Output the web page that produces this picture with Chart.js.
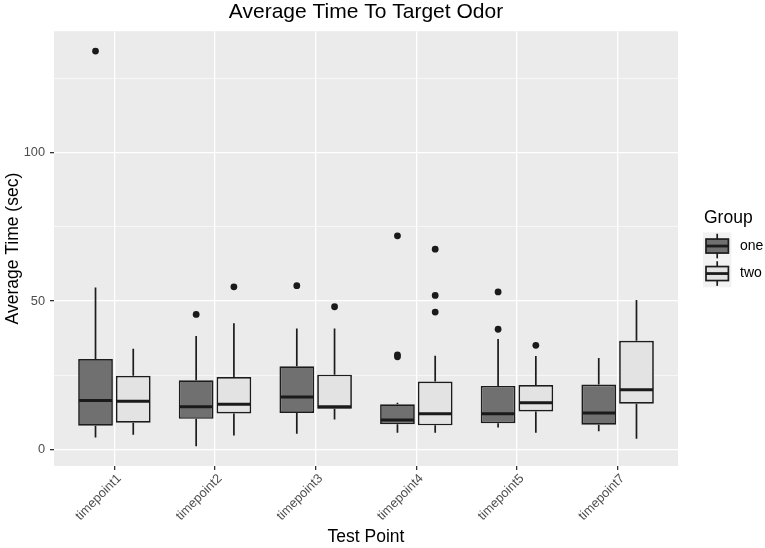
<!DOCTYPE html>
<html>
<head>
<meta charset="utf-8">
<script src="https://cdn.jsdelivr.net/npm/chart.js@4/dist/chart.umd.min.js"></script>
<style>
  html, body { margin: 0; padding: 0; background: #fff; }
  #wrap { width: 765px; height: 548px; }
</style>
</head>
<body>
<div id="wrap"><canvas id="boxChart" width="765" height="548"></canvas></div>
<script>
// categories and groups
const categories = ['timepoint1', 'timepoint2', 'timepoint3', 'timepoint4', 'timepoint5', 'timepoint7'];
const groups = ['one', 'two'];

// group "one" box stats
const oneLow  = [4.0, 1.1, 5.3, 5.6, 7.4, 6.1];
const oneQ1   = [8.0, 10.3, 12.3, 8.5, 8.8, 8.3];
const oneMed  = [16.5, 14.4, 17.7, 9.9, 12.0, 12.3];
const oneQ3   = [30.5, 23.3, 28.0, 15.2, 21.4, 21.9];
const oneHigh = [54.6, 38.2, 40.8, 15.7, 37.2, 30.8];
const oneOut  = [[134.3], [45.5], [55.2], [72.0, 31.9, 31.2], [53.1, 40.5], []];

// group "two"
const twoLow  = [4.9, 4.7, 10.1, 5.6, 5.6, 3.6];
const twoQ1   = [9.0, 12.1, 13.7, 8.1, 12.8, 15.4];
const twoMed  = [16.2, 15.2, 14.4, 12.0, 15.7, 20.1];
const twoQ3   = [24.8, 24.4, 25.2, 22.9, 21.7, 36.6];
const twoHigh = [33.9, 42.5, 40.8, 31.6, 31.5, 50.4];
const twoOut  = [[], [54.8], [48.1], [67.5, 51.9, 46.3], [35.1], []];

const yTicks = [0, 25, 50, 75, 100, 125];

const stats = [
  {low: oneLow, q1: oneQ1, med: oneMed, q3: oneQ3, high: oneHigh, out: oneOut, fill: '#707070'},
  {low: twoLow, q1: twoQ1, med: twoMed, q3: twoQ3, high: twoHigh, out: twoOut, fill: '#E3E3E3'}
];

const FONT = '"Liberation Sans", Arial, sans-serif';
Chart.defaults.font.family = FONT;
Chart.defaults.color = '#000';

const dodge = 0.75 / 4;
const LINE = '#1c1c1c';

const datasets = [];
stats.forEach((s, g) => {
  datasets.push({
    type: 'bar',
    label: groups[g],
    data: categories.map((c, i) => ({x: i, y: [s.q1[i], s.q3[i]]})),
    backgroundColor: s.fill,
    borderColor: LINE,
    borderWidth: 1.7,
    borderSkipped: false,
    grouped: true,
    categoryPercentage: 0.75,
    barPercentage: 0.92,
    order: 1
  });
});
stats.forEach((s, g) => {
  const pts = [];
  s.out.forEach((arr, i) => arr.forEach(v => pts.push({x: i + (g === 0 ? -dodge : dodge), y: v})));
  datasets.push({
    type: 'scatter',
    label: groups[g] + ' outliers',
    data: pts,
    pointRadius: 3.4,
    pointBackgroundColor: '#1a1a1a',
    pointBorderWidth: 0,
    showLine: false,
    order: 0
  });
});

// panel background, whiskers, medians, legend
const boxParts = {
  id: 'boxParts',
  beforeDraw(chart) {
    const a = chart.chartArea, ctx = chart.ctx;
    ctx.save();
    ctx.fillStyle = '#EBEBEB';
    ctx.fillRect(a.left, a.top, a.right - a.left, a.bottom - a.top);
    ctx.restore();
  },
  beforeDatasetsDraw(chart) {
    const ctx = chart.ctx, y = chart.scales.y;
    ctx.save();
    ctx.strokeStyle = LINE;
    ctx.lineWidth = 1.7;
    stats.forEach((s, g) => {
      chart.getDatasetMeta(g).data.forEach((bar, i) => {
        ctx.beginPath();
        ctx.moveTo(bar.x, y.getPixelForValue(s.low[i]));
        ctx.lineTo(bar.x, y.getPixelForValue(s.q1[i]));
        ctx.moveTo(bar.x, y.getPixelForValue(s.q3[i]));
        ctx.lineTo(bar.x, y.getPixelForValue(s.high[i]));
        ctx.stroke();
      });
    });
    ctx.restore();
  },
  afterDatasetsDraw(chart) {
    const ctx = chart.ctx, y = chart.scales.y;
    ctx.save();
    ctx.strokeStyle = '#1a1a1a';
    ctx.lineWidth = 3;
    stats.forEach((s, g) => {
      chart.getDatasetMeta(g).data.forEach((bar, i) => {
        const py = y.getPixelForValue(s.med[i]);
        ctx.beginPath();
        ctx.moveTo(bar.x - bar.width / 2 + 0.8, py);
        ctx.lineTo(bar.x + bar.width / 2 - 0.8, py);
        ctx.stroke();
      });
    });
    ctx.restore();
  },
  afterDraw(chart) {
    const ctx = chart.ctx;
    const left = chart.chartArea.right + 25;
    const keyW = 28.4, keyH = 27.5, top = 232.3;
    ctx.save();
    ctx.fillStyle = '#000';
    ctx.font = '17.5px ' + FONT;
    ctx.textBaseline = 'alphabetic';
    ctx.fillText('Group', left + 1, 223.3);
    groups.forEach((name, g) => {
      const y0 = top + g * keyH, cx = left + keyW / 2, cy = y0 + keyH / 2;
      ctx.fillStyle = '#F2F2F2';
      ctx.fillRect(left, y0, keyW, keyH);
      ctx.strokeStyle = LINE;
      ctx.lineWidth = 1.7;
      ctx.beginPath();
      ctx.moveTo(cx, cy - 12.3); ctx.lineTo(cx, cy + 12.3);
      ctx.stroke();
      ctx.fillStyle = stats[g].fill;
      ctx.fillRect(cx - 11.2, cy - 7, 22.4, 14);
      ctx.strokeRect(cx - 11.2, cy - 7, 22.4, 14);
      ctx.lineWidth = 2.8;
      ctx.beginPath();
      ctx.moveTo(cx - 11.2, cy); ctx.lineTo(cx + 11.2, cy);
      ctx.stroke();
      ctx.fillStyle = '#000';
      ctx.font = '14px ' + FONT;
      ctx.textBaseline = 'middle';
      ctx.fillText(name, 740, cy);
    });
    ctx.restore();
  }
};

new Chart(document.getElementById('boxChart'), {
  type: 'bar',
  data: {datasets: datasets},
  plugins: [boxParts],
  options: {
    responsive: false,
    animation: false,
    layout: {padding: {left: 0, right: 87, top: 0, bottom: 0}},
    plugins: {
      legend: {display: false},
      tooltip: {enabled: false},
      title: {
        display: true,
        fullSize: false,
        text: 'Average Time To Target Odor',
        font: {size: 21, weight: 'normal'},
        color: '#000',
        padding: {top: 0, bottom: 6}
      }
    },
    scales: {
      x: {
        type: 'linear',
        min: -0.6,
        max: 5.6,
        offset: false,
        afterBuildTicks: s => { s.ticks = categories.map((c, i) => ({value: i})); },
        afterFit: s => { s.height = 82; s.paddingLeft = 0; s.paddingRight = 0; },
        ticks: {
          autoSkip: false,
          minRotation: 45,
          maxRotation: 45,
          padding: 1,
          labelOffset: 5,
          color: '#4D4D4D',
          font: {size: 12.8},
          callback: v => categories[v]
        },
        grid: {offset: false, color: '#FFFFFF', lineWidth: 1.3, tickColor: '#333333', tickLength: 4},
        border: {display: false},
        title: {display: true, text: 'Test Point', font: {size: 17.5}, color: '#000', padding: {top: 0, bottom: 0}}
      },
      y: {
        type: 'linear',
        min: -5.6,
        max: 141,
        afterBuildTicks: s => { s.ticks = yTicks.map(v => ({value: v})); },
        afterFit: s => { s.width = 54; s.paddingTop = 0; s.paddingBottom = 0; },
        ticks: {
          padding: 5,
          color: '#4D4D4D',
          font: {size: 12.8},
          callback: v => (v % 50 === 0 ? String(v) : '')
        },
        grid: {
          color: '#FFFFFF',
          lineWidth: c => (c.tick && c.tick.value % 50 === 0 ? 1.3 : 0.6),
          tickColor: c => (c.tick && c.tick.value % 50 === 0 ? '#333333' : 'rgba(0,0,0,0)'),
          tickLength: 4
        },
        border: {display: false},
        title: {display: true, text: 'Average Time (sec)', font: {size: 17.5}, color: '#000', padding: {top: 3, bottom: 0}}
      }
    }
  }
});
</script>
</body>
</html>
